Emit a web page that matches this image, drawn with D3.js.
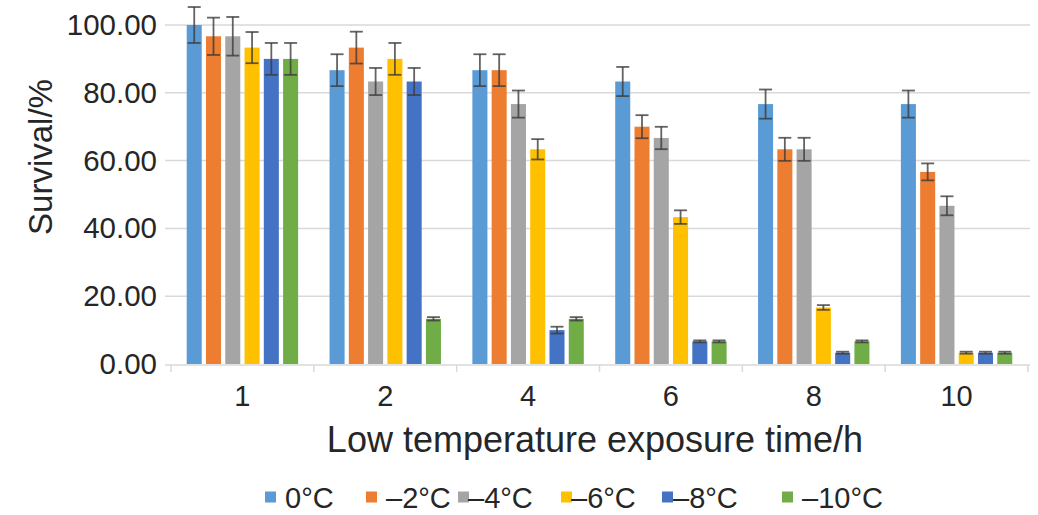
<!DOCTYPE html>
<html>
<head>
<meta charset="utf-8">
<script src="https://cdn.jsdelivr.net/npm/d3@7/dist/d3.min.js"></script>
<style>
  html, body { margin: 0; padding: 0; background: #ffffff; }
  svg { display: block; font-family: "Liberation Sans", Arial, Helvetica, sans-serif; }
</style>
</head>
<body>
<svg id="chart" width="1038" height="515"></svg>
<script>
// Exposure times (h)
const categories = ["1", "2", "4", "6", "8", "10"];
// Temperature treatments
const seriesNames = ["0°C", "–2°C", "–4°C", "–6°C", "–8°C", "–10°C"];
const seriesColors = ["#5B9BD5", "#ED7D31", "#A5A5A5", "#FFC000", "#4472C4", "#70AD47"];

// Survival (%) per treatment, one value per exposure time
const surv0   = [100.00, 86.67, 86.67, 83.33, 76.67, 76.67];
const surv2   = [96.67, 93.33, 86.67, 70.00, 63.33, 56.67];
const surv4   = [96.67, 83.33, 76.67, 66.67, 63.33, 46.67];
const surv6   = [93.33, 90.00, 63.33, 43.33, 16.67, 3.33];
const surv8   = [90.00, 83.33, 10.00, 6.67, 3.33, 3.33];
const surv10  = [90.00, 13.33, 13.33, 6.67, 6.67, 3.33];

// Standard error (%) per treatment
const err0  = [5.3, 4.7, 4.7, 4.3, 4.3, 4.0];
const err2  = [5.5, 4.7, 4.7, 3.4, 3.4, 2.5];
const err4  = [5.7, 4.0, 4.0, 3.3, 3.4, 2.8];
const err6  = [4.6, 4.7, 3.0, 2.0, 0.7, 0.3];
const err8  = [4.7, 4.0, 1.0, 0.3, 0.3, 0.3];
const err10 = [4.7, 0.5, 0.5, 0.3, 0.3, 0.3];

const yTicks = [0, 20, 40, 60, 80, 100];

const seriesValues = [surv0, surv2, surv4, surv6, surv8, surv10];
const seriesErrors = [err0, err2, err4, err6, err8, err10];

const svg = d3.select("#chart");
const textColor = "#262626";
const gridColor = "#D9D9D9";

const plot = { left: 171, right: 1028, top: 25, bottom: 364 };

const x0 = d3.scaleBand()
  .domain(categories)
  .range([plot.left, plot.right])
  .paddingInner(0.22)
  .paddingOuter(0.11);

const x1 = d3.scaleBand()
  .domain(d3.range(seriesNames.length))
  .range([0, x0.bandwidth()])
  .paddingInner(0.22);

const y = d3.scaleLinear()
  .domain([0, 100])
  .range([plot.bottom, plot.top]);

// Horizontal gridlines
svg.append("g")
  .selectAll("line")
  .data(yTicks.filter(d => d > 0))
  .join("line")
  .attr("x1", plot.left - 6)
  .attr("x2", plot.right + 2)
  .attr("y1", d => y(d))
  .attr("y2", d => y(d))
  .attr("stroke", gridColor)
  .attr("stroke-width", 1.5);

// Y axis labels
const yAxis = d3.axisLeft(y)
  .tickValues(yTicks)
  .tickFormat(d3.format(".2f"))
  .tickSize(0)
  .tickPadding(0);
const gy = svg.append("g")
  .attr("transform", `translate(157,0)`)
  .call(yAxis);
gy.select(".domain").remove();
gy.selectAll("text")
  .attr("font-size", 29.5)
  .attr("fill", textColor)
  .attr("font-family", "Liberation Sans, Arial, sans-serif");

// Bars
const groups = svg.append("g")
  .selectAll("g")
  .data(categories)
  .join("g")
  .attr("transform", d => `translate(${x0(d)},0)`);

const cells = groups.selectAll("g.cell")
  .data((c, ci) => seriesNames.map((s, si) => ({
    si, value: seriesValues[si][ci], err: seriesErrors[si][ci]
  })))
  .join("g")
  .attr("class", "cell");

cells.append("rect")
  .attr("x", d => x1(d.si))
  .attr("width", x1.bandwidth())
  .attr("y", d => y(d.value))
  .attr("height", d => y(0) - y(d.value))
  .attr("fill", d => seriesColors[d.si]);

// Error bars
const capHalf = 6.5;
const errColor = "rgba(60,60,60,0.8)";
const cx = d => x1(d.si) + x1.bandwidth() / 2;
const yHi = d => y(d.value + d.err);
const yLo = d => y(Math.max(0, d.value - d.err));
cells.append("line")
  .attr("x1", cx).attr("x2", cx)
  .attr("y1", yHi).attr("y2", yLo)
  .attr("stroke", errColor)
  .attr("stroke-width", 1.8);
cells.append("line")
  .attr("x1", d => cx(d) - capHalf)
  .attr("x2", d => cx(d) + capHalf)
  .attr("y1", yHi).attr("y2", yHi)
  .attr("stroke", errColor)
  .attr("stroke-width", 1.8);
cells.append("line")
  .attr("x1", d => cx(d) - capHalf)
  .attr("x2", d => cx(d) + capHalf)
  .attr("y1", yLo).attr("y2", yLo)
  .attr("stroke", errColor)
  .attr("stroke-width", 1.8);

// X axis line with category separators
svg.append("line")
  .attr("x1", plot.left - 6)
  .attr("x2", plot.right + 2)
  .attr("y1", y(0) + 1)
  .attr("y2", y(0) + 1)
  .attr("stroke", gridColor)
  .attr("stroke-width", 1.5);

const step = x0.step();
const boundaries = categories.map(c => x0(c) - x0.paddingOuter() * step)
  .concat([plot.right]);
svg.append("g")
  .selectAll("line")
  .data(boundaries)
  .join("line")
  .attr("x1", d => d)
  .attr("x2", d => d)
  .attr("y1", y(0) + 1)
  .attr("y2", y(0) + 8)
  .attr("stroke", gridColor)
  .attr("stroke-width", 1.5);

// Category labels
svg.append("g")
  .selectAll("text")
  .data(categories)
  .join("text")
  .attr("x", d => x0(d) + x0.bandwidth() / 2)
  .attr("y", 406)
  .attr("text-anchor", "middle")
  .attr("font-size", 29)
  .attr("fill", textColor)
  .text(d => d);

// Axis titles
svg.append("text")
  .attr("x", 595)
  .attr("y", 452)
  .attr("text-anchor", "middle")
  .attr("font-size", 36)
  .attr("fill", textColor)
  .text("Low temperature exposure time/h");

svg.append("text")
  .attr("transform", "translate(52,157) rotate(-90)")
  .attr("text-anchor", "middle")
  .attr("font-size", 33)
  .attr("fill", textColor)
  .text("Survival/%");

// Legend
const legendX = [265, 366, 458, 561, 662, 782];
const legendTextGap = [20, 20, 10, 10, 11, 20];
const legend = svg.append("g")
  .selectAll("g")
  .data(seriesNames)
  .join("g")
  .attr("transform", (d, i) => `translate(${legendX[i]},497)`);
legend.append("rect")
  .attr("x", 0)
  .attr("y", -5.5)
  .attr("width", 11)
  .attr("height", 11)
  .attr("fill", (d, i) => seriesColors[i]);
legend.append("text")
  .attr("x", (d, i) => legendTextGap[i])
  .attr("y", 10.5)
  .attr("font-size", 29)
  .attr("fill", textColor)
  .text(d => d);
</script>
</body>
</html>
